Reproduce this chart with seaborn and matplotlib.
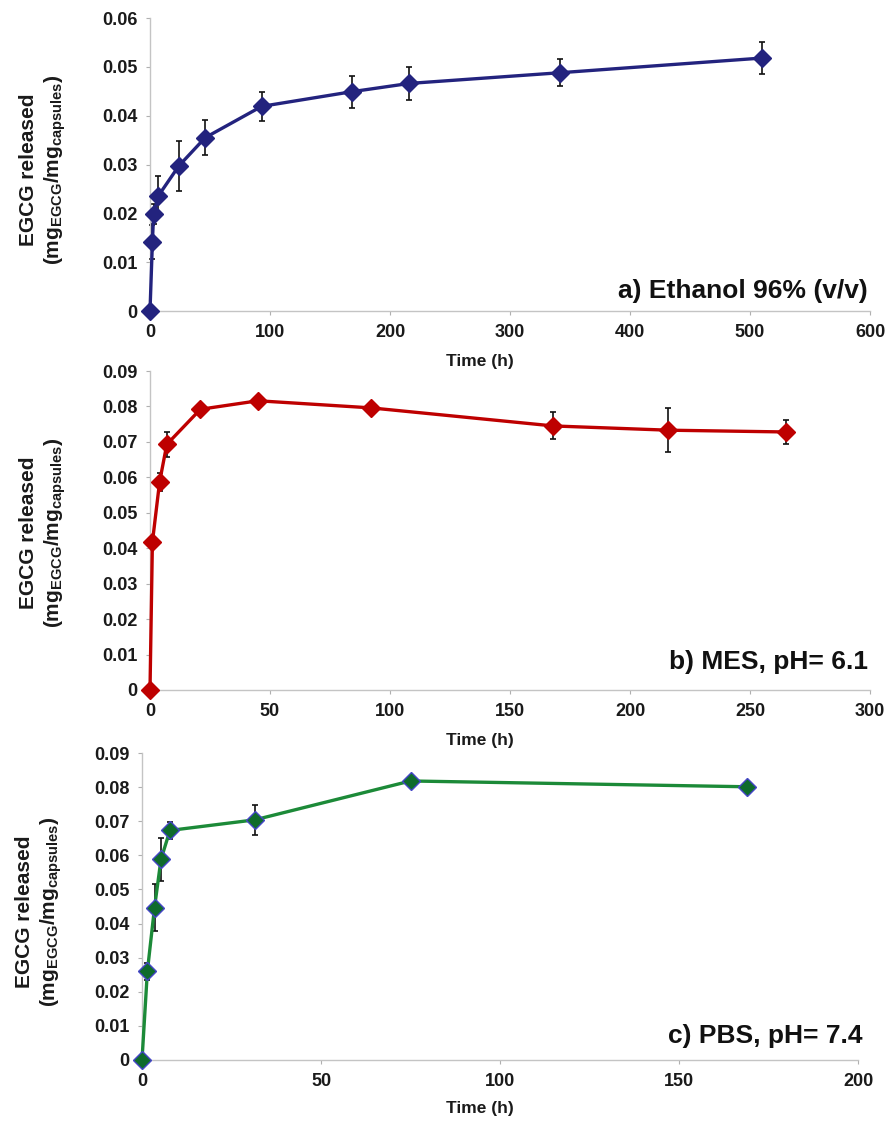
import numpy as np
import pandas as pd
import matplotlib
matplotlib.use("Agg")
import matplotlib.pyplot as plt
import seaborn as sns
from matplotlib.ticker import FixedLocator, FixedFormatter

# ---------------- data ----------------
time_a = [0, 2, 3, 7, 24, 46, 93, 168, 216, 342, 510]
egcg_a = [0, 0.0141, 0.0199, 0.0236, 0.0297, 0.0355, 0.0419, 0.0449, 0.0466, 0.0488, 0.0518]
err_a = [0, 0.0035, 0.0020, 0.0040, 0.0052, 0.0036, 0.0030, 0.0033, 0.0033, 0.0028, 0.0033]

time_b = [0, 1, 4, 7, 21, 45, 92, 168, 216, 265]
egcg_b = [0, 0.0417, 0.0587, 0.0693, 0.0792, 0.0816, 0.0796, 0.0745, 0.0733, 0.0728]
err_b = [0, 0.0005, 0.0025, 0.0035, 0.0010, 0.0010, 0.0010, 0.0038, 0.0062, 0.0035]

time_c = [0, 1.5, 3.5, 5.3, 7.8, 31.5, 75, 169]
egcg_c = [0, 0.0260, 0.0447, 0.0588, 0.0673, 0.0704, 0.0818, 0.0801]
err_c = [0, 0.0025, 0.0070, 0.0063, 0.0025, 0.0043, 0.0008, 0.0005]

xticks_a = [0, 100, 200, 300, 400, 500, 600]
xticks_b = [0, 50, 100, 150, 200, 250, 300]
xticks_c = [0, 50, 100, 150, 200]
yticks_a = [0, 0.01, 0.02, 0.03, 0.04, 0.05, 0.06]
yticks_bc = [0, 0.01, 0.02, 0.03, 0.04, 0.05, 0.06, 0.07, 0.08, 0.09]

panel_titles = ["a) Ethanol 96% (v/v)", "b) MES, pH= 6.1", "c) PBS, pH= 7.4"]
xlabel = "Time (h)"
ylabel_1 = "EGCG released"
ylabel_2 = r"(mg$_{\mathbf{EGCG}}$/mg$_{\mathbf{capsules}}$)"

# ---------------- style ----------------
sns.set_theme(style="white")
plt.rcParams['font.family'] = ['Liberation Sans', 'DejaVu Sans']
plt.rcParams['mathtext.fontset'] = 'custom'
plt.rcParams['mathtext.rm'] = 'Liberation Sans:bold'
plt.rcParams['mathtext.bf'] = 'Liberation Sans:bold'
plt.rcParams['mathtext.it'] = 'Liberation Sans:bold'

W, H = 894, 1128
fig = plt.figure(figsize=(W / 100, H / 100), dpi=100)

def px_axes(left, top, right, bottom):
    return fig.add_axes([left / W, 1 - bottom / H, (right - left) / W, (bottom - top) / H])

ax_a = px_axes(150, 18, 870, 311)
ax_b = px_axes(150, 371, 870, 690)
ax_c = px_axes(142, 753, 858, 1060)

def fmt(v):
    return "0" if v == 0 else f"{v:.2f}"

def style(ax, xt, yt, xlim, ylim):
    ax.set_xlim(*xlim)
    ax.set_ylim(*ylim)
    ax.xaxis.set_major_locator(FixedLocator(xt))
    ax.xaxis.set_major_formatter(FixedFormatter([str(v) for v in xt]))
    ax.yaxis.set_major_locator(FixedLocator(yt))
    ax.yaxis.set_major_formatter(FixedFormatter([fmt(v) for v in yt]))
    sns.despine(ax=ax)
    for s in ("left", "bottom"):
        ax.spines[s].set_color("#C4C4C4")
        ax.spines[s].set_linewidth(1.0)
    ax.tick_params(axis="both", which="major", direction="out", length=3, width=0.8,
                   color="#B0B0B0", labelsize=13, pad=6, labelcolor="#1a1a1a",
                   left=True, bottom=True)
    for lab in ax.get_xticklabels() + ax.get_yticklabels():
        lab.set_fontweight("bold")
    ax.set_facecolor("white")
    ax.grid(False)

def draw(ax, t, y, e, color, mface, medge):
    ax.errorbar(t, y, yerr=e, fmt="none", ecolor="#111111", elinewidth=1.2,
                capsize=2.5, capthick=1.2, zorder=2)
    df = pd.DataFrame({"t": t, "y": y})
    sns.lineplot(data=df, x="t", y="y", ax=ax, color=color, linewidth=2.4,
                 marker="D", markersize=9, markerfacecolor=mface,
                 markeredgecolor=medge, markeredgewidth=1.0, zorder=3)
    for ln in ax.lines:
        ln.set_clip_on(False)

draw(ax_a, time_a, egcg_a, err_a, "#23237E", "#23237E", "#23237E")
draw(ax_b, time_b, egcg_b, err_b, "#BE0000", "#BE0000", "#BE0000")
draw(ax_c, time_c, egcg_c, err_c, "#1C8A38", "#0F6B2C", "#4646C8")

style(ax_a, xticks_a, yticks_a, (0, 600), (0, 0.06))
style(ax_b, xticks_b, yticks_bc, (0, 300), (0, 0.09))
style(ax_c, xticks_c, yticks_bc, (0, 200), (0, 0.09))

# x labels
for ax, (xc, yc_px, hh) in zip((ax_a, ax_b, ax_c),
                               ((0.458, 50, 293), (0.458, 50, 319), (0.472, 48, 307))):
    ax.set_xlabel(xlabel, fontsize=12.5, fontweight="bold", color="#1a1a1a")
    ax.xaxis.label.set_va("center")
    ax.xaxis.set_label_coords(xc, -yc_px / hh)
    ax.set_ylabel("")

# y labels (two lines)
for (x1, x2, yc) in ((29, 55, 170), (29, 55, 533), (25, 51, 912)):
    fig.text(x1 / W, 1 - yc / H, ylabel_1, rotation=90, ha="center", va="center",
             fontsize=15, fontweight="bold", color="#1a1a1a")
    fig.text(x2 / W, 1 - yc / H, ylabel_2, rotation=90, ha="center", va="center",
             fontsize=15, fontweight="bold", color="#1a1a1a")

# panel titles
for (xr, yc), title in zip(((868, 291), (868, 662), (862, 1036)), panel_titles):
    fig.text(xr / W, 1 - yc / H, title, ha="right", va="center",
             fontsize=19, fontweight="bold", color="#111111")

fig.savefig("out.png", dpi=100, facecolor="white")
